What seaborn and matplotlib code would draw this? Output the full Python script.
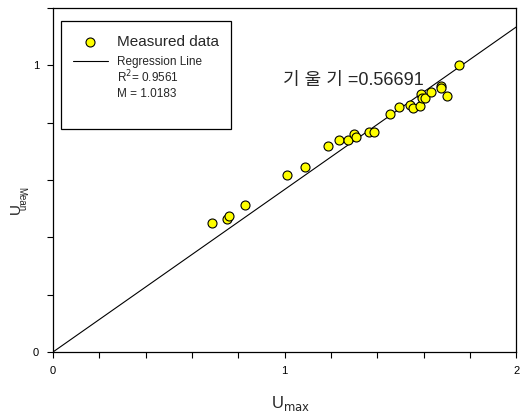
import numpy as np
import pandas as pd
import matplotlib
matplotlib.use("Agg")
import matplotlib.pyplot as plt
from matplotlib.ticker import MultipleLocator
from matplotlib.patches import Rectangle
import seaborn as sns

sns.set_style("ticks")
plt.rcParams["font.family"] = ["Liberation Sans", "Noto Sans CJK KR", "DejaVu Sans"]

# measured points
u_max = [0.686, 0.750, 0.760, 0.829, 1.011, 1.090, 1.187, 1.236, 1.273, 1.299,
         1.309, 1.364, 1.384, 1.453, 1.492, 1.542, 1.554, 1.584, 1.590, 1.594,
         1.607, 1.630, 1.673, 1.673, 1.703, 1.752]
u_mean = [0.449, 0.465, 0.476, 0.514, 0.616, 0.647, 0.717, 0.740, 0.741, 0.761,
          0.750, 0.768, 0.766, 0.829, 0.854, 0.861, 0.852, 0.857, 0.901, 0.886,
          0.887, 0.907, 0.928, 0.920, 0.893, 1.002]
slope = 0.56691
r2_text = "R$^2$= 0.9561"
m_text = "M = 1.0183"

df = pd.DataFrame({"Umax": u_max, "Umean": u_mean})

fig = plt.figure(figsize=(5.22, 4.15), dpi=100)
ax = fig.add_axes([0.1015, 0.1518, 0.8875, 0.8289])

#regression line
line_x = np.array([0, 2])
ax.plot(line_x, slope * line_x, color="black", lw=0.8, zorder=2)

sns.scatterplot(data=df, x="Umax", y="Umean", ax=ax, color="#ffff00",
                edgecolor="black", linewidth=0.8, s=42, zorder=3)

ax.set_xlim(0, 2)
ax.set_ylim(0, 1.2)
ax.xaxis.set_major_locator(MultipleLocator(1))
ax.xaxis.set_minor_locator(MultipleLocator(0.2))
ax.yaxis.set_major_locator(MultipleLocator(1))
ax.yaxis.set_minor_locator(MultipleLocator(0.2))
ax.tick_params(which="both", direction="out", length=4, width=0.8,
               labelsize=8, colors="black", pad=6)
for sp in ax.spines.values():
    sp.set_visible(True)
    sp.set_color("black")
    sp.set_linewidth(0.9)

ax.set_xlabel("")
ax.set_ylabel("")
fig.text(0.556, 0.028, "U$_{\\mathrm{max}}$", fontsize=12, ha="center", va="center")
fig.text(0.030, 0.497, "U", fontsize=11, rotation=90, ha="center", va="center")
fig.text(0.040, 0.520, "Mean", fontsize=7, rotation=270, ha="center", va="center")

ax.text(0.994, 0.948, "기 울 기 =0.56691", fontsize=13, ha="left", va="center")

# legend box
ax.add_patch(Rectangle((0.0172, 0.647), 0.368, 0.316, transform=ax.transAxes,
                       fill=False, edgecolor="black", lw=0.9, zorder=4))
ax.scatter([0.0797], [0.902], transform=ax.transAxes, s=42, color="#ffff00",
           edgecolor="black", linewidth=0.8, zorder=5, clip_on=False)
ax.plot([0.043, 0.119], [0.845, 0.845], transform=ax.transAxes,
        color="black", lw=0.8, zorder=5)
ax.text(0.138, 0.901, "Measured data", transform=ax.transAxes, fontsize=11, va="center")
ax.text(0.138, 0.843, "Regression Line", transform=ax.transAxes, fontsize=8.5, va="center")
ax.text(0.138, 0.799, r2_text, transform=ax.transAxes, fontsize=8.5, va="center")
ax.text(0.138, 0.750, m_text, transform=ax.transAxes, fontsize=8.5, va="center")

plt.savefig("out.png", dpi=100)
